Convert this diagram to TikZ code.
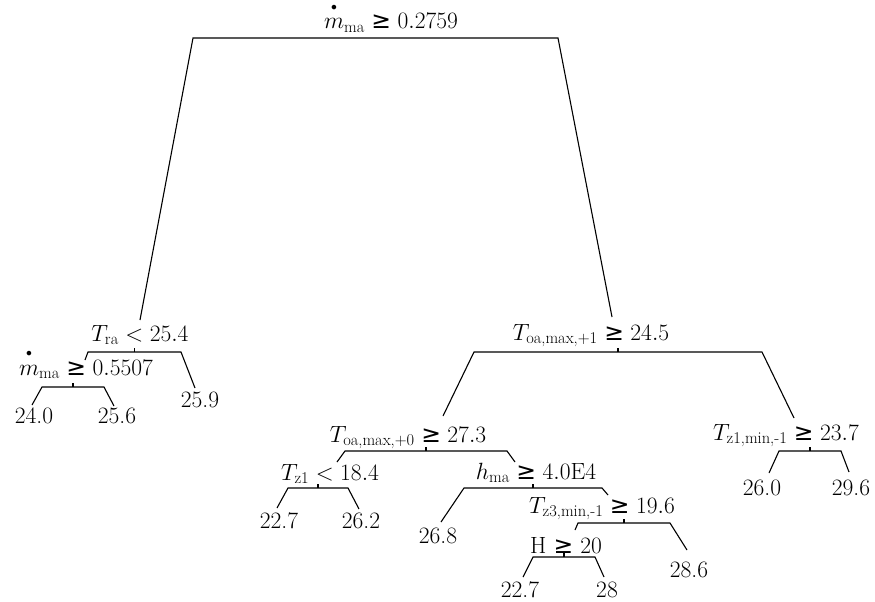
\RequirePackage{fix-cm}
\documentclass[tikz,border=0pt]{standalone}
\usepackage{amsmath}
\usepackage{fontspec}
\newfontfamily\djv{DejaVu Sans}
\usetikzlibrary{calc}
\newcommand{\gsym}{\mathrel{\text{\djv ≥}}}
\newcommand{\mdt}{\overset{\raisebox{3pt}{$\scriptscriptstyle\bullet$}}{m}}
\begin{document}
\begin{tikzpicture}[x=1pt,y=-1pt,
  lbl/.style={anchor=base,inner sep=0pt,font=\fontsize{23.5}{28}\selectfont},
  br/.style={line width=1.1pt,line join=miter}]
\useasboundingbox (0,0) rectangle (875,602);

% labels
\node[lbl] (root)  at (391,29)  {$\mdt_{\text{ma}} \gsym 0.2759$};
\node[lbl] (tra)   at (140,341) {$T_{\text{ra}} < 25.4$};
\node[lbl] (mdot)  at (86,375)  {$\mdt_{\text{ma}} \gsym 0.5507$};
\node[lbl] (l240)  at (34,423)  {24.0};
\node[lbl] (l256)  at (117,423) {25.6};
\node[lbl] (l259)  at (200,407) {25.9};
\node[lbl] (toa1)  at (591,340) {$T_{\text{oa,max,+1}} \gsym 24.5$};
\node[lbl] (tz1m)  at (786,440) {$T_{\text{z1,min,-1}} \gsym 23.7$};
\node[lbl] (l260)  at (762,495) {26.0};
\node[lbl] (l296)  at (851,495) {29.6};
\node[lbl] (toa0)  at (408,442) {$T_{\text{oa,max,+0}} \gsym 27.3$};
\node[lbl] (tz1)   at (330,480) {$T_{\text{z1}} < 18.4$};
\node[lbl] (l227a) at (279,528) {22.7};
\node[lbl] (l262)  at (361,528) {26.2};
\node[lbl] (hma)   at (536,479) {$h_{\text{ma}} \gsym 4.0\text{E}4$};
\node[lbl] (l268)  at (438,543) {26.8};
\node[lbl] (tz3)   at (602,513) {$T_{\text{z3,min,-1}} \gsym 19.6$};
\node[lbl] (l286)  at (689,577) {28.6};
\node[lbl] (hh)    at (566,553) {H $\gsym$ 20};
\node[lbl] (l227b) at (520,597) {22.7};
\node[lbl] (l28)   at (607,597) {28};

% bar ends
\coordinate (rootL) at (193,38);  \coordinate (rootR) at (558,38);
\coordinate (traL)  at (88,352);  \coordinate (traR)  at (181,352);
\coordinate (mdL)   at (42,387);  \coordinate (mdR)   at (104,387);
\coordinate (toa1L) at (474,352); \coordinate (toa1R) at (762,352);
\coordinate (tzmL)  at (779,451); \coordinate (tzmR)  at (841,451);
\coordinate (toa0L) at (345,451); \coordinate (toa0R) at (507,451);
\coordinate (tz1L)  at (288,488); \coordinate (tz1R)  at (348,488);
\coordinate (hmaL)  at (464,488); \coordinate (hmaR)  at (602,488);
\coordinate (tz3L)  at (578,523); \coordinate (tz3R)  at (670,523);
\coordinate (hL)    at (533,557); \coordinate (hR)    at (595,557);

% branch ends (tops of children)
\coordinate (traT)   at (140,320); \coordinate (toa1T)  at (612,317);
\coordinate (mdT)    at (85,360);  \coordinate (l259T)  at (195,388);
\coordinate (l240T)  at (32,405);  \coordinate (l256T)  at (114,406);
\coordinate (toa0T)  at (443,416); \coordinate (tzmT)   at (794,418);
\coordinate (l260T)  at (769,473); \coordinate (l296T)  at (849,472);
\coordinate (tz1T)   at (337,462); \coordinate (hmaT)   at (515,462);
\coordinate (l227aT) at (277,508); \coordinate (l262T)  at (359,509);
\coordinate (l268T)  at (441,522); \coordinate (tz3T)   at (608,495);
\coordinate (hT)     at (575,530); \coordinate (l286T)  at (687,550);
\coordinate (l227bT) at (523,577); \coordinate (l28T)   at (604,577);

% branches
\draw[br] (traT) -- (rootL) -- (rootR) -- (toa1T);
\draw[br] (mdT) -- (traL) -- (traR) -- (l259T);
\draw[br] (l240T) -- (mdL) -- (mdR) -- (l256T);
\draw[br] (toa0T) -- (toa1L) -- (toa1R) -- (tzmT);
\draw[br] (l260T) -- (tzmL) -- (tzmR) -- (l296T);
\draw[br] (tz1T) -- (toa0L) -- (toa0R) -- (hmaT);
\draw[br] (l227aT) -- (tz1L) -- (tz1R) -- (l262T);
\draw[br] (l268T) -- (hmaL) -- (hmaR) -- (tz3T);
\draw[br] (hT) -- (tz3L) -- (tz3R) -- (l286T);
\draw[br] (l227bT) -- (hL) -- (hR) -- (l28T);

% ticks
\foreach \a/\b in {traL/traR,mdL/mdR,toa1L/toa1R,tzmL/tzmR,toa0L/toa0R,tz1L/tz1R,hmaL/hmaR,tz3L/tz3R,hL/hR}
  \draw[br] ($(\a)!0.5!(\b)$) -- ++(0,-4);
\end{tikzpicture}
\end{document}
